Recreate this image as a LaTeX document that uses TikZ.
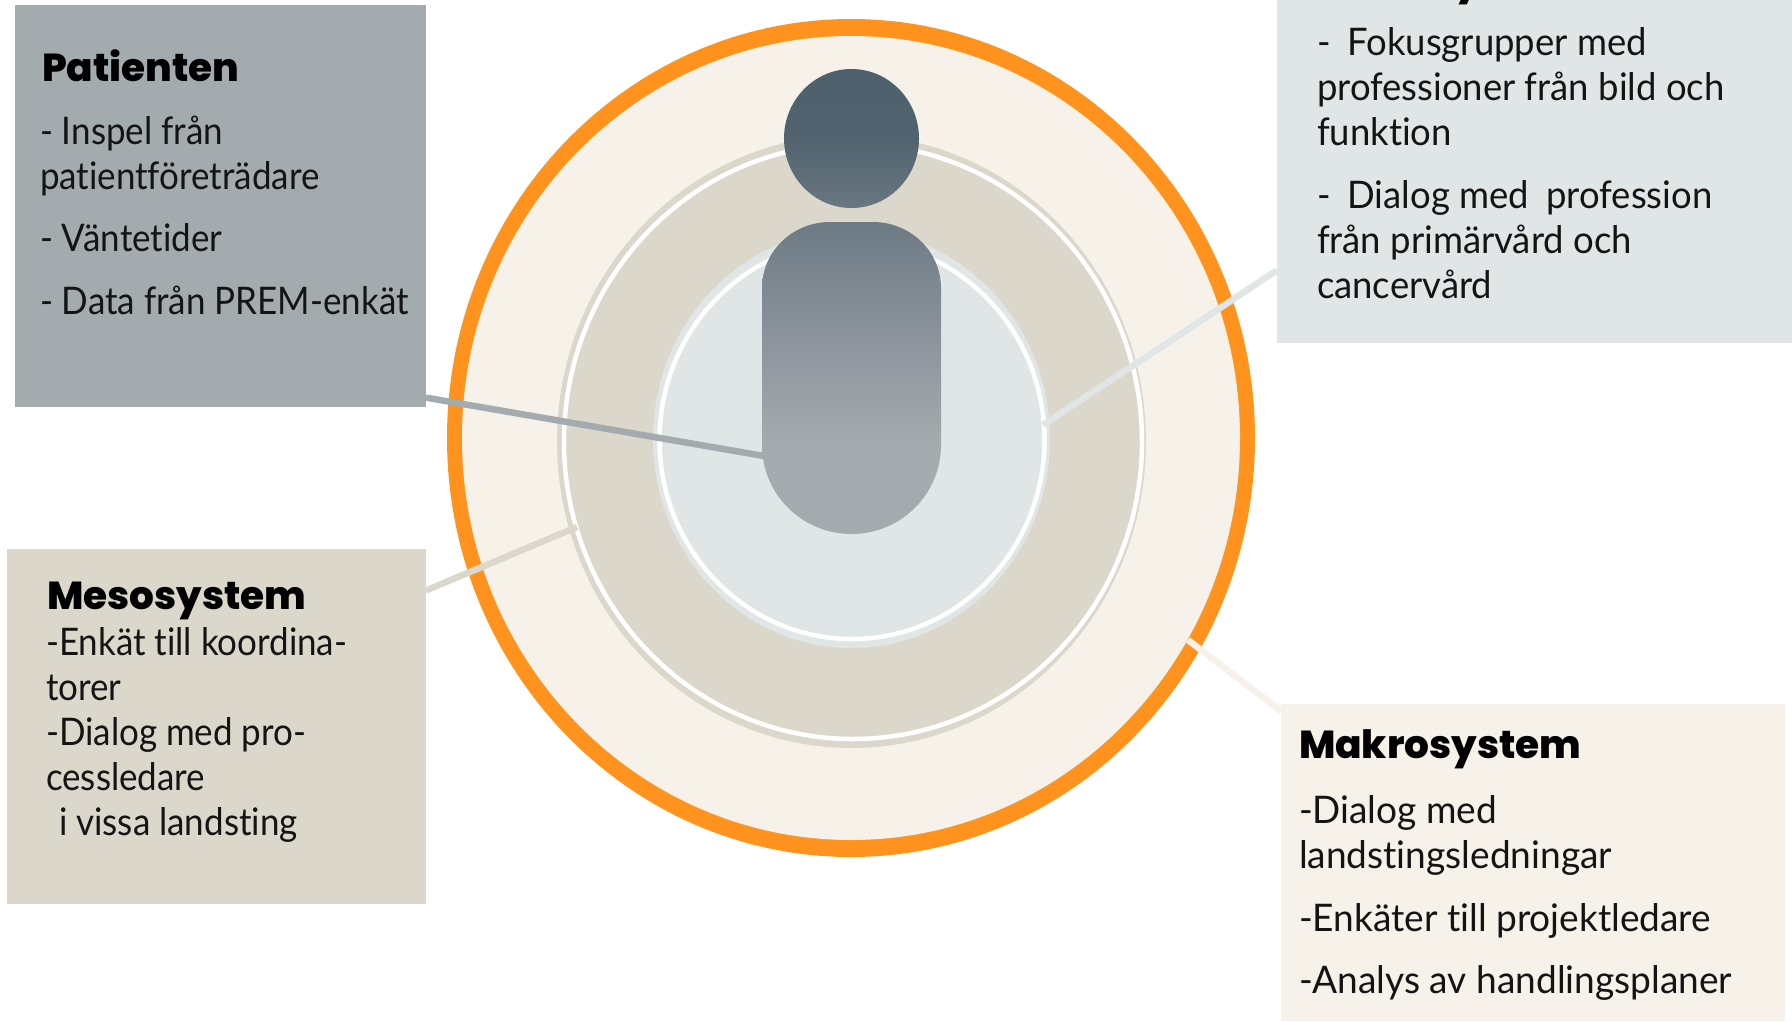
\documentclass[tikz,border=0pt]{standalone}
\usepackage{fontspec}
\setmainfont{Lato}[FakeStretch=0.92,Ligatures=NoCommon]
\newfontfamily\mikroface{Lato}[FakeStretch=0.96,Ligatures=NoCommon]
\newfontfamily\makroface{Lato}[FakeStretch=0.975,Ligatures=NoCommon]
\newfontfamily\headfont{Poppins}[BoldFont={Poppins ExtraBold}]
\definecolor{orangering}{HTML}{FF931E}
\definecolor{outerfill}{HTML}{F6F2EA}
\definecolor{midfill}{HTML}{DBD8CB}
\definecolor{innerfill}{HTML}{E0E5E5}
\definecolor{patfill}{HTML}{A3ABAE}
\definecolor{figA}{HTML}{A3ABAE}
\definecolor{figB}{HTML}{8F969E}
\definecolor{figC}{HTML}{6D7B85}
\definecolor{figD}{HTML}{52636F}
\definecolor{figE}{HTML}{4E606C}
\pgfdeclareverticalshading{figgrad}{100bp}{color(0bp)=(figA); color(35bp)=(figA); color(44.7bp)=(figB); color(58.5bp)=(figC); color(67.5bp)=(figD); color(75bp)=(figE); color(100bp)=(figE)}
\newcommand{\topline}{\rule{0pt}{30pt}}
\tikzset{
  x=1pt,y=1pt,
  box/.style={rectangle,inner sep=0pt,outer sep=0pt,anchor=north west},
  bodytext/.style={anchor=north west,inner sep=0pt,outer sep=0pt,align=left,text=black!92,font=\fontsize{38}{45}\selectfont},
  mikrobody/.style={bodytext,font=\mikroface\fontsize{38}{45}\selectfont},
  makrobody/.style={bodytext,font=\makroface\fontsize{38}{45}\selectfont},
  headtext/.style={anchor=north west,inner sep=0pt,outer sep=0pt,text=black,font=\headfont\bfseries\fontsize{39}{42}\selectfont},
  link/.style={line width=6.5pt}
}
\begin{document}
\begin{tikzpicture}
\useasboundingbox (0,0) rectangle (1792,-1021);
\clip (0,0) rectangle (1792,-1021);
% rings
\fill[orangering] (851,-438) ellipse [x radius=404,y radius=419];
\fill[outerfill] (851,-438) ellipse [x radius=389,y radius=402];
\fill[midfill] (851.5,-441.5) ellipse [x radius=294.5,y radius=306.5];
\draw[white,line width=4.5pt] (853,-441.5) ellipse [x radius=289,y radius=297.5];
\fill[innerfill] (851.5,-439) ellipse [x radius=198.5,y radius=209];
\draw[white,line width=4.5pt] (852,-440) ellipse [x radius=192.5,y radius=199];
% boxes
\node[box,fill=patfill,minimum width=411pt,minimum height=402pt] (patbox) at (15,-5) {};
\node[box,fill=midfill,minimum width=419pt,minimum height=355pt] (mesobox) at (7,-549) {};
\node[box,fill=innerfill,minimum width=515pt,minimum height=343pt] (mikrobox) at (1277,0) {};
\node[box,fill=outerfill,minimum width=504pt,minimum height=317pt] (makrobox) at (1281,-704) {};
% connector ends
\coordinate (bodypoint) at (764,-456);
\coordinate (mesopoint) at (577,-527);
\coordinate (innerpoint) at (1043,-425);
\coordinate (orangepoint) at (1188,-640);
\draw[link,patfill] (patbox.-43) -- (bodypoint);
\draw[link,midfill] (mesobox.33.3) -- (mesopoint);
\draw[link,innerfill] (mikrobox.201.8) -- (innerpoint);
\draw[link,outerfill] (makrobox.149.2) -- (orangepoint);
% figure
\shade[shading=figgrad]
  (851.5,-138.5) ellipse [x radius=67.5,y radius=69.5]
  (762,-288) arc [start angle=180,end angle=90,x radius=68,y radius=66]
  -- (873,-222) arc [start angle=90,end angle=0,x radius=68,y radius=66]
  -- (941,-445) arc [start angle=0,end angle=-180,x radius=89.5,y radius=89] -- cycle;
% texts
\node[headtext] (pattitle) at (42,-50) {\topline Patienten};
\node[bodytext] (pattext) at (40,-114) {\topline- Inspel från\\patientföreträdare\\[17pt]- Väntetider\\[18pt]- Data från PREM-enkät};
\node[headtext] (mesotitle) at (47,-579) {\topline Mesosystem};
\node[bodytext] (mesotext) at (46,-625) {\topline-Enkät till koordina-\\torer\\-Dialog med pro-\\cessledare\\\hspace{13pt}i vissa landsting};
\node[headtext] (mikrotitle) at (1317,37) {\topline Mikrosystem};
\node[mikrobody] (mikrotext) at (1317,-25) {\topline-\hspace{17pt}Fokusgrupper med\\professioner från bild och\\funktion\\[18pt]-\hspace{17pt}Dialog med\hspace{8pt} profession\\från primärvård och\\cancervård};
\node[headtext] (makrotitle) at (1299,-728) {\topline Makrosystem};
\node[makrobody] (makrotext) at (1299,-793) {\topline-Dialog med\\landstingsledningar\\[18pt]-Enkäter till projektledare\\[17pt]-Analys av handlingsplaner};
\end{tikzpicture}
\end{document}
